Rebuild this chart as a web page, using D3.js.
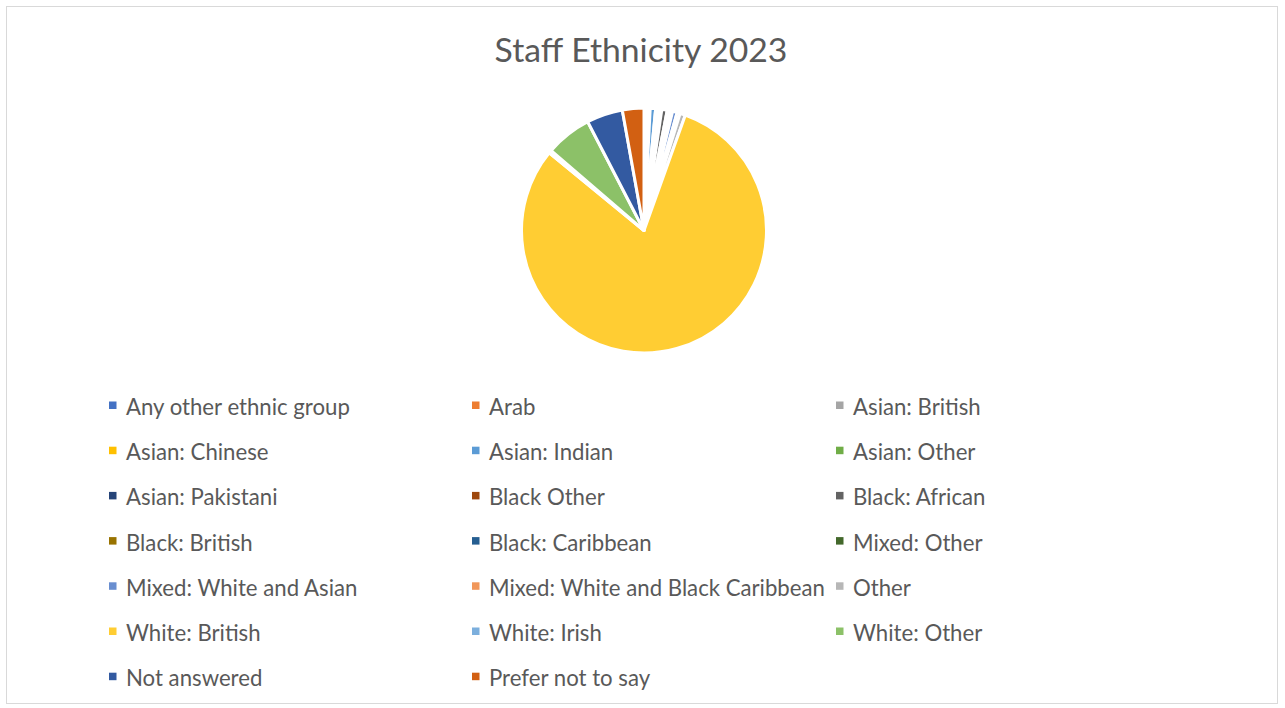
<!DOCTYPE html>
<html>
<head>
<meta charset="utf-8">
<script src="https://cdn.jsdelivr.net/npm/d3@7"></script>
<style>
  html, body { margin: 0; padding: 0; background: #fff; }
  svg { display: block; }
</style>
</head>
<body>
<svg id="chart" width="1285" height="708"></svg>
<script>
// Staff ethnicity shares (per cent of staff), in legend order
const categories = [
  "Any other ethnic group", "Arab", "Asian: British",
  "Asian: Chinese", "Asian: Indian", "Asian: Other",
  "Asian: Pakistani", "Black Other", "Black: African",
  "Black: British", "Black: Caribbean", "Mixed: Other",
  "Mixed: White and Asian", "Mixed: White and Black Caribbean", "Other",
  "White: British", "White: Irish", "White: Other",
  "Not answered", "Prefer not to say"
];
const shares = [
  0.3, 0.3, 0.1,
  0.1, 0.7, 0.3,
  0.3, 0.2, 0.7,
  0.2, 0.2, 0.3,
  0.6, 0.4, 0.7,
  79.4, 0.4, 6.0,
  4.7, 2.8
];
const palette = [
  "#4472C4", "#ED7D31", "#A5A5A5",
  "#FFC000", "#5B9BD5", "#70AD47",
  "#264478", "#9E480E", "#636363",
  "#997300", "#255E91", "#43682B",
  "#698ED0", "#F1975A", "#B7B7B7",
  "#FFCD33", "#7CAFDD", "#8CC168",
  "#335AA1", "#D26012"
];
const title = "Staff Ethnicity 2023";

const svg = d3.select("#chart");
const FONT = "Lato, 'Open Sans', 'DejaVu Sans', sans-serif";
const TEXT = "#595959";

// chart frame
svg.append("rect")
  .attr("x", 6.5).attr("y", 6.5)
  .attr("width", 1271).attr("height", 697)
  .attr("fill", "#fff")
  .attr("stroke", "#d9d9d9").attr("stroke-width", 1);

// fit a text element's font size to a target width
function fitWidth(sel, target, start) {
  sel.attr("font-size", start);
  const w = sel.node().getComputedTextLength();
  const size = start * target / w;
  sel.attr("font-size", size);
  return size;
}

// title
const t = svg.append("text")
  .attr("x", 641).attr("y", 62)
  .attr("text-anchor", "middle")
  .attr("font-family", FONT)
  .attr("fill", TEXT)
  .text(title);
fitWidth(t, 293, 30);

// pie
const cx = 644, cy = 230.5, r = 122.5;
const color = d3.scaleOrdinal().domain(categories).range(palette);
const pie = d3.pie().sort(null).value(d => d.v);
const arc = d3.arc().innerRadius(0).outerRadius(r);
const data = categories.map((c, i) => ({ c, v: shares[i] }));

svg.append("g")
  .attr("transform", `translate(${cx},${cy})`)
  .selectAll("path")
  .data(pie(data))
  .join("path")
  .attr("d", arc)
  .attr("fill", d => color(d.data.c))
  .attr("stroke", "#fff")
  .attr("stroke-width", 3)
  .attr("stroke-linejoin", "round");

// legend: 3 columns, row-major
const colX = [109, 472, 836];
const rowY0 = 407, rowStep = 45.2;
const legend = svg.append("g").attr("font-family", FONT).attr("fill", TEXT);

// size legend text so the first label spans its measured width
const probe = legend.append("text").text(categories[0]);
const legendSize = fitWidth(probe, 224, 20);
probe.remove();

categories.forEach((c, i) => {
  const col = i % 3, row = Math.floor(i / 3);
  const x = colX[col], y = rowY0 + row * rowStep;
  legend.append("rect")
    .attr("x", x).attr("y", y - 5.5)
    .attr("width", 7.5).attr("height", 7.5)
    .attr("fill", color(c));
  legend.append("text")
    .attr("x", x + 17).attr("y", y)
    .attr("dy", "0.36em")
    .attr("font-size", legendSize)
    .text(c);
});
</script>
</body>
</html>
